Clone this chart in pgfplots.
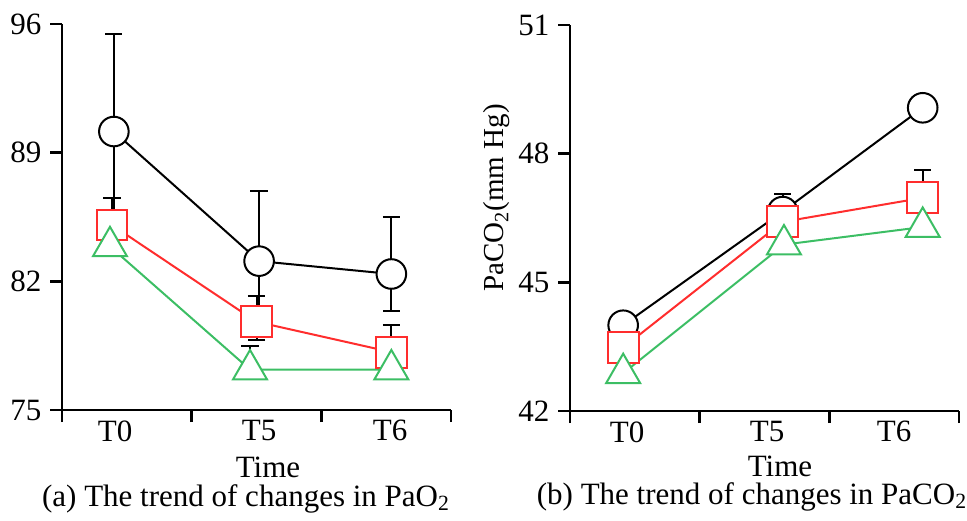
\documentclass[border=0pt]{standalone}
\usepackage{fontspec}
\setmainfont{Liberation Serif}
\usepackage{pgfplots}
\pgfplotsset{compat=1.18}
\definecolor{myred}{RGB}{255,45,45}
\definecolor{mygreen}{RGB}{60,190,100}
\begin{document}
\fontsize{15.5}{18}\selectfont
\begin{tikzpicture}
\useasboundingbox (0pt,0pt) rectangle (483.5pt,-260pt);
\pgfplotsset{
  myaxis/.style={
    scale only axis, axis lines=left, axis line style={-, line width=1.2pt},
    tick align=outside, major tick length=6pt, tick style={line width=1.2pt, black},
    xmin=0, xmax=3, xtick={0,1,2,3}, xticklabels={},
    clip=false,
    /pgf/number format/assume math mode=true,
    tick label style={font=\fontsize{15.5}{18}\selectfont},
    yticklabel style={xshift=1pt},
    extra x tick style={major tick length=0pt, tick label style={inner sep=0pt, yshift=-5pt}},
    width=194.5pt, height=193pt, anchor=south west,
  },
  blk/.style={black, line width=1pt, mark=*, mark size=7.4pt, mark options={fill=white, draw=black, solid, line width=1pt}},
  rd/.style={myred, line width=1pt, mark=square*, mark size=7.7pt, mark options={fill=white, draw=myred, solid, line width=1pt}},
  gr/.style={mygreen, line width=1pt, mark=triangle*, mark size=9.8pt, mark options={fill=white, draw=mygreen, solid, line width=1pt}},
  eb/.style={error bars/.cd, y dir=#1, y explicit, error bar style={line width=1pt, black}, error mark options={rotate=90, mark size=4.3pt, line width=1pt, black}},
}
% Left panel
\begin{axis}[myaxis, at={(31pt,-205pt)}, ymin=75, ymax=96, ytick={75,82,89,96},
  extra x ticks={0.41,1.52,2.53}, extra x tick labels={T0,T5,T6}]
\addplot[blk, eb=both] coordinates {
 (0.40,90.15) += (0,5.3) -= (0,5.3)
 (1.52,83.1) += (0,3.8) -= (0,3.8)
 (2.54,82.4) += (0,3.1) -= (0,2.0)
};
\addplot[rd, eb=both] coordinates {
 (0.386,85.06) += (0,1.5) -= (0,1.5)
 (1.50,79.8) += (0,1.4) -= (0,1.0)
 (2.54,78.15) += (0,1.45) -= (0,1.0)
};
\addplot[gr, eb=both] coordinates {
 (0.37,83.9) += (0,0.5) -= (0,0.5)
 (1.45,77.2) += (0,1.3) -= (0,0.5)
 (2.54,77.2) += (0,1.1) -= (0,0.5)
};
\end{axis}
% Right panel
\begin{axis}[myaxis, at={(285pt,-205.5pt)}, ymin=42, ymax=51, ytick={42,45,48,51},
  extra x ticks={0.44,1.52,2.5}, extra x tick labels={T0,T5,T6}]
\addplot[blk, eb=plus] coordinates {
 (0.41,44.0) +- (0,0)
 (1.64,46.65) +- (0,0.41)
 (2.72,49.07) +- (0,0)
};
\addplot[rd, eb=plus] coordinates {
 (0.41,43.48) +- (0,0)
 (1.64,46.41) +- (0,0)
 (2.72,46.97) +- (0,0.65)
};
\addplot[gr, eb=plus] coordinates {
 (0.41,42.88) +- (0,0)
 (1.65,45.88) +- (0,0)
 (2.72,46.29) +- (0,0)
};
\end{axis}
\node[anchor=base, inner sep=0pt] at (134pt,-238.5pt) {Time};
\node[anchor=base, inner sep=0pt] at (123pt,-253pt) {(a) The trend of changes in PaO\textsubscript{2}};
\node[anchor=base, inner sep=0pt] at (390pt,-238pt) {Time};
\node[anchor=base, inner sep=0pt] at (376pt,-252pt) {(b) The trend of changes in PaCO\textsubscript{2}};
\node[rotate=90, font=\fontsize{14.5}{17}\selectfont] at (248.5pt,-99pt) {PaCO\textsubscript{2}(mm Hg)};
\end{tikzpicture}
\end{document}
